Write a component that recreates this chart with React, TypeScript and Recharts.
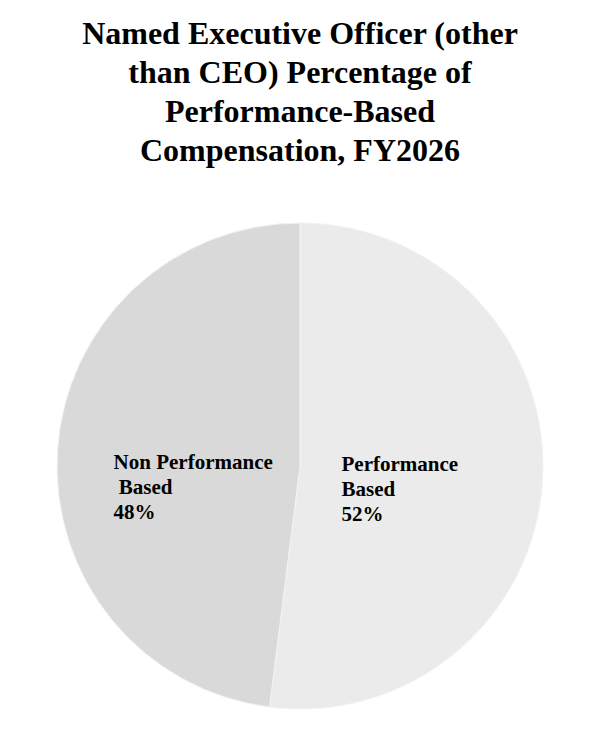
import { PieChart, Pie, Cell } from 'recharts';

const TITLE_LINES = [
  'Named Executive Officer (other',
  'than CEO) Percentage of',
  'Performance-Based',
  'Compensation, FY2026',
];

const SLICE_NAMES = ['Performance Based', 'Non Performance Based'];
const SLICE_VALUES = [52, 48];
const SLICE_COLORS = ['#ebebeb', '#d9d9d9'];
// label text as it is broken in the picture (percent is appended from the value)
const SLICE_LABEL_LINES = [
  ['Performance', 'Based'],
  ['Non Performance', ' Based'],
];

const W = 600;
const H = 750;
const FONT = "'Liberation Serif', 'Times New Roman', serif";
const LABEL_SIZE = 21;
const LABEL_LEAD = 25;

const data = SLICE_NAMES.map((name, i) => ({ name, value: SLICE_VALUES[i], idx: i }));

let ctx: CanvasRenderingContext2D | null = null;
function textWidth(s: string) {
  if (!ctx) ctx = document.createElement('canvas').getContext('2d');
  if (!ctx) return s.length * LABEL_SIZE * 0.5;
  ctx.font = `bold ${LABEL_SIZE}px ${FONT}`;
  return ctx.measureText(s).width;
}

const RAD = Math.PI / 180;

function SliceLabel(props: any) {
  const { cx, cy, midAngle, outerRadius, payload, value } = props;
  const lines = [...SLICE_LABEL_LINES[payload.idx], `${value}%`];
  const r = outerRadius * 0.426;
  const bx = cx - 3.5 + r * Math.cos(-midAngle * RAD);
  const by = cy + 22 - r * Math.sin(midAngle * RAD) * 0.2;
  const wMax = Math.max(...lines.map(textWidth));
  const x0 = bx - wMax / 2;
  const y0 = by - ((lines.length - 1) * LABEL_LEAD) / 2 + LABEL_SIZE * 0.33;
  return (
    <text x={x0} y={y0} fontFamily={FONT} fontSize={LABEL_SIZE} fontWeight="bold" fill="#000" style={{ whiteSpace: 'pre' }}>
      {lines.map((l, i) => (
        <tspan key={i} x={x0} y={y0 + i * LABEL_LEAD} style={{ whiteSpace: 'pre' }}>{l}</tspan>
      ))}
    </text>
  );
}

export default function App() {
  return (
    <div style={{ position: 'absolute', left: 0, top: 0, width: W, height: H, background: '#fff' }}>
      <div style={{
        position: 'absolute', left: 0, top: 14, width: W, textAlign: 'center',
        fontFamily: FONT, fontWeight: 'bold', fontSize: 32, lineHeight: '39px', color: '#000',
      }}>
        {TITLE_LINES.map((t, i) => <div key={i}>{t}</div>)}
      </div>
      <PieChart width={W} height={H} margin={{ top: 0, right: 0, bottom: 0, left: 0 }}>
        <Pie
          data={data} dataKey="value" nameKey="name"
          cx={300} cy={466} outerRadius={243}
          startAngle={90} endAngle={-270}
          stroke="#f3f3f3" strokeWidth={1}
          label={SliceLabel} labelLine={false}
          isAnimationActive={false}
        >
          {data.map((d, i) => <Cell key={d.name} fill={SLICE_COLORS[i]} />)}
        </Pie>
      </PieChart>
    </div>
  );
}
